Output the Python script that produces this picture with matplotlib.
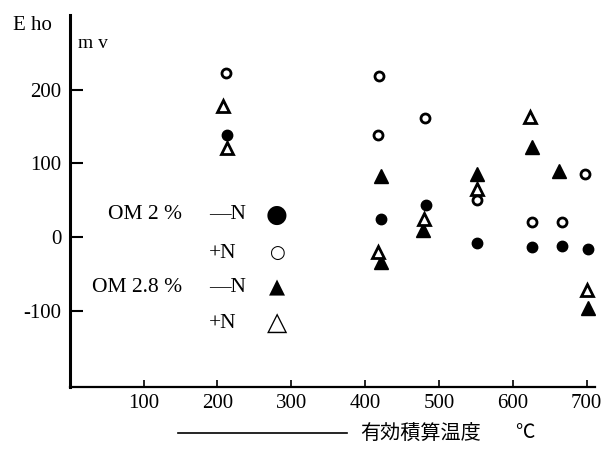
import matplotlib.pyplot as plt
from matplotlib.lines import Line2D

# values (x: effective accumulated temperature, y: Eh mV)
om2_noN_x = [213, 421, 482, 551, 626, 666, 702]
om2_noN_y = [138, 24, 44, -8, -13, -12, -17]

om2_N_x = [211, 419, 418, 481, 551, 626, 667, 698]
om2_N_y = [223, 219, 138, 162, 50, 21, 20, 86]

om28_noN_x = [421, 421, 479, 551, 626, 662, 702]
om28_noN_y = [83, -34, 10, 86, 122, 90, -96]

om28_N_x = [208, 213, 418, 480, 551, 623, 700]
om28_N_y = [178, 121, -20, 25, 65, 163, -72]

xticks = [100, 200, 300, 400, 500, 600, 700]
yticks = [-100, 0, 100, 200]

serif = 'Liberation Serif'
cjk = ['Noto Sans CJK JP', 'DejaVu Sans']

fig = plt.figure(figsize=(6.02, 4.5), dpi=100)
ax = fig.add_axes([0.116, 0.14, 0.872, 0.827])

ax.plot(om2_noN_x, om2_noN_y, 'o', color='black', ms=7.5, ls='none')
ax.plot(om2_N_x, om2_N_y, 'o', mfc='white', mec='black', mew=2, ms=6.5, ls='none')
ax.plot(om28_noN_x, om28_noN_y, '^', color='black', ms=9.5, ls='none')
ax.plot(om28_N_x, om28_N_y, '^', mfc='white', mec='black', mew=2, ms=9, ls='none')

ax.set_xlim(0, 711)
ax.set_ylim(-204, 302)
ax.set_xticks(xticks)
ax.set_yticks(yticks)
ax.set_xticklabels([str(v) for v in xticks], fontfamily=serif, fontsize=15)
ax.set_yticklabels([str(v) for v in yticks], fontfamily=serif, fontsize=15)
ax.tick_params(axis='y', direction='in', length=9, width=1.5, pad=6)
ax.tick_params(axis='x', direction='in', length=5, width=1.2, pad=5)
for s in ['top', 'right']:
    ax.spines[s].set_visible(False)
ax.spines['left'].set_linewidth(2.2)
ax.spines['bottom'].set_linewidth(1.6)

# legend drawn as text, like the original figure
rows = [30, -22, -69, -117]
ax.text(152, rows[0], 'OM 2 %', ha='right', va='center', fontfamily=serif, fontsize=15.5)
ax.text(152, rows[2], 'OM 2.8 %', ha='right', va='center', fontfamily=serif, fontsize=15.5)
signs = ['\u2014N', '+N', '\u2014N', '+N']
glyphs = ['\u25cf', '\u25cb', '\u25b2', '\u25b3']
gsize = [18, 13, 15, 19]
for r, s, g, gs in zip(rows, signs, glyphs, gsize):
    ax.text(188, r, s, ha='left', va='center', fontfamily=serif, fontsize=15.5)
    ax.text(280, r, g, ha='center', va='center', fontfamily='DejaVu Sans', fontsize=gs)

fig.text(13 / 602, 1 - 25 / 450, 'E ho', ha='left', va='center', fontfamily=serif, fontsize=15)
fig.text(78 / 602, 1 - 43 / 450, 'm v', ha='left', va='center', fontfamily=serif, fontsize=14)

fig.add_artist(Line2D([178 / 602, 347 / 602], [1 - 433 / 450, 1 - 433 / 450],
                      color='black', lw=1.2))
fig.text(360 / 602, 1 - 433 / 450, '有効積算温度', ha='left', va='center',
         family=cjk, fontsize=14.5)
fig.text(515 / 602, 1 - 433 / 450, '℃', ha='left', va='center', family=cjk, fontsize=14)

fig.savefig('out.png', dpi=100, facecolor='white')
